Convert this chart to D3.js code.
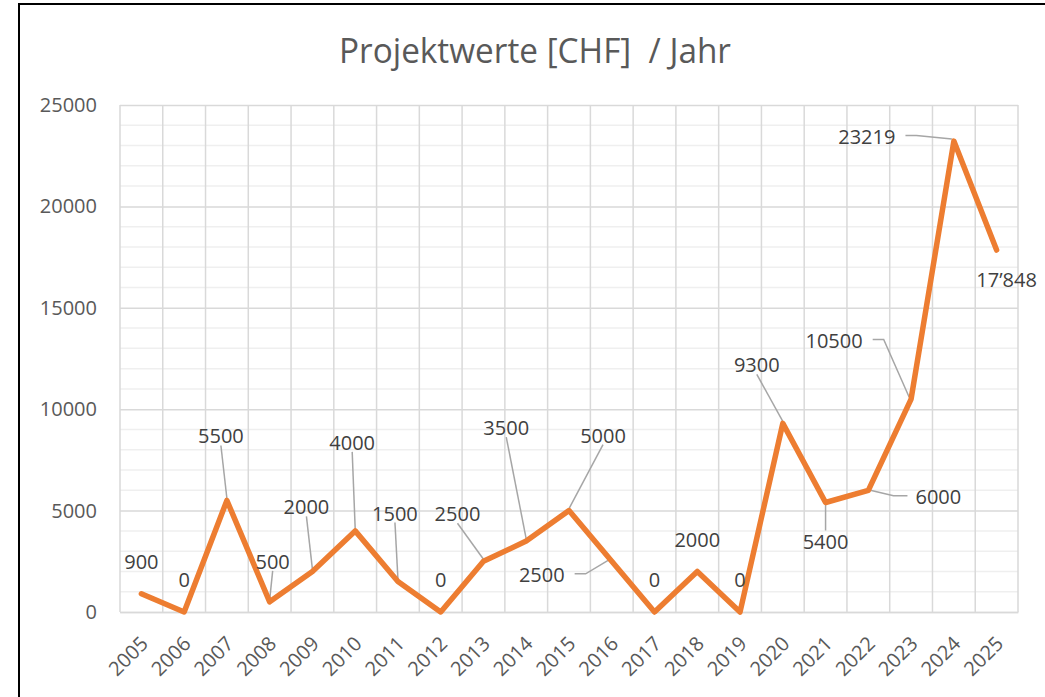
<!DOCTYPE html>
<html>
<head>
<meta charset="utf-8">
<script src="https://cdn.jsdelivr.net/npm/d3@7"></script>
<style>
  body { margin: 0; background: #fff; }
  svg { display: block; font-family: "Open Sans", "Noto Sans", sans-serif; }
</style>
</head>
<body>
<svg id="chart" width="1045" height="697"></svg>
<script>
// chart data
var years = ["2005","2006","2007","2008","2009","2010","2011","2012","2013","2014","2015",
             "2016","2017","2018","2019","2020","2021","2022","2023","2024","2025"];
var values = [900, 0, 5500, 500, 2000, 4000, 1500, 0, 2500, 3500, 5000,
              2500, 0, 2000, 0, 9300, 5400, 6000, 10500, 23219, 17848];
var labels = ["900","0","5500","500","2000","4000","1500","0","2500","3500","5000",
              "2500","0","2000","0","9300","5400","6000","10500","23219","17\u2019848"];
var yTicks = [0, 5000, 10000, 15000, 20000, 25000];

// label placement (offset from point) and leader style
var labelOffset = [[0,-32],[0,-32],[-6,-64],[3,-40],[-6,-64],[-3,-88],[-3,-68],[0,-32],
                   [-26,-47],[-20,-113],[34,-75],[-70,14],[0,-32],[0,-31],[0,-32],
                   [-26,-58],[0,40],[70,7],[-77,-58],[-87,-4],[10,30]];
var leaderType = [null,null,"b","b","b","b","b",null,"b","b","b","r",null,null,null,
                  "b","t","l","r","r",null];

var svg = d3.select("#chart");

// frame
svg.append("rect")
  .attr("x", 19).attr("y", 4)
  .attr("width", 1100).attr("height", 800)
  .attr("fill", "#fff")
  .attr("stroke", "#000").attr("stroke-width", 2);

var plotL = 120, plotR = 1018, plotT = 105, plotB = 612;

var x = d3.scaleBand().domain(years).range([plotL, plotR]).padding(0);
var y = d3.scaleLinear().domain([0, 25000]).range([plotB, plotT]);

// title (keeps the double space)
svg.append("text")
  .attr("x", 535).attr("y", 63)
  .attr("text-anchor", "middle")
  .attr("font-size", 34)
  .attr("fill", "#595959")
  .attr("textLength", 392)
  .attr("lengthAdjust", "spacingAndGlyphs")
  .style("white-space", "pre")
  .text("Projektwerte [CHF]  / Jahr");

// minor horizontal grid
svg.append("g")
  .selectAll("line")
  .data(d3.range(1000, 25000, 1000).filter(function(d) { return d % 5000 != 0; }))
  .join("line")
  .attr("x1", plotL).attr("x2", plotR)
  .attr("y1", function(d) { return y(d); })
  .attr("y2", function(d) { return y(d); })
  .attr("stroke", "#efefef").attr("stroke-width", 1.5);

// vertical grid on category boundaries
svg.append("g")
  .selectAll("line")
  .data(years.concat(["end"]))
  .join("line")
  .attr("x1", function(d, i) { return i < years.length ? x(d) : plotR; })
  .attr("x2", function(d, i) { return i < years.length ? x(d) : plotR; })
  .attr("y1", plotT).attr("y2", plotB)
  .attr("stroke", "#d9d9d9").attr("stroke-width", 1.5);

// y axis with major grid
var yAxis = svg.append("g")
  .attr("transform", "translate(" + plotL + ",0)")
  .call(d3.axisLeft(y).tickValues(yTicks).tickFormat(d3.format("d"))
    .tickSize(-(plotR - plotL)).tickPadding(23));
yAxis.select(".domain").remove();
yAxis.selectAll(".tick line").attr("stroke", "#d9d9d9").attr("stroke-width", 1.5);
yAxis.selectAll(".tick text")
  .attr("fill", "#595959")
  .attr("font-size", 20)
  .attr("font-family", "'Open Sans', sans-serif");

// x axis
var xAxis = svg.append("g")
  .attr("transform", "translate(0," + plotB + ")")
  .call(d3.axisBottom(x).tickSize(0).tickPadding(0));
xAxis.select(".domain").attr("stroke", "#d9d9d9").attr("stroke-width", 1.5);
xAxis.selectAll(".tick text")
  .attr("fill", "#595959")
  .attr("font-size", 20)
  .attr("font-family", "'Open Sans', sans-serif")
  .attr("text-anchor", "end")
  .attr("dy", "0.35em")
  .attr("transform", "translate(3,28) rotate(-45)");

// leaders (drawn before line)
var leaderG = svg.append("g");

// line
var line = d3.line()
  .x(function(d, i) { return x(years[i]) + x.bandwidth() / 2; })
  .y(function(d) { return y(d); });

svg.append("path")
  .datum(values)
  .attr("d", line)
  .attr("fill", "none")
  .attr("stroke", "#ED7D31")
  .attr("stroke-width", 5.5)
  .attr("stroke-linejoin", "round")
  .attr("stroke-linecap", "round");

// data labels
var lbl = svg.append("g")
  .selectAll("text")
  .data(values)
  .join("text")
  .attr("x", function(d, i) { return x(years[i]) + x.bandwidth() / 2 + labelOffset[i][0]; })
  .attr("y", function(d, i) { return y(d) + labelOffset[i][1]; })
  .attr("dy", "0.35em")
  .attr("text-anchor", "middle")
  .attr("font-size", 20)
  .attr("fill", "#404040")
  .text(function(d, i) { return labels[i]; });

lbl.each(function(d, i) {
  var t = leaderType[i];
  if (!t) return;
  var b = this.getBBox();
  var px = x(years[i]) + x.bandwidth() / 2, py = y(d);
  var lx = b.x + b.width / 2, ly = b.y + b.height / 2;
  var pts;
  if (t == "b") pts = [[lx, b.y + b.height - 4], [px, py - 2]];
  else if (t == "t") pts = [[lx, b.y + 2], [px, py + 2]];
  else if (t == "r") pts = [[b.x + b.width + 10, ly - 1], [b.x + b.width + 21, ly - 1], [px - 2, py - 2]];
  else if (t == "l") pts = [[b.x - 8, ly - 1], [b.x - 22, ly - 1], [px + 2, py]];
  leaderG.append("path")
    .attr("d", d3.line()(pts))
    .attr("fill", "none")
    .attr("stroke", "#a6a6a6")
    .attr("stroke-width", 1.5);
});
</script>
</body>
</html>
